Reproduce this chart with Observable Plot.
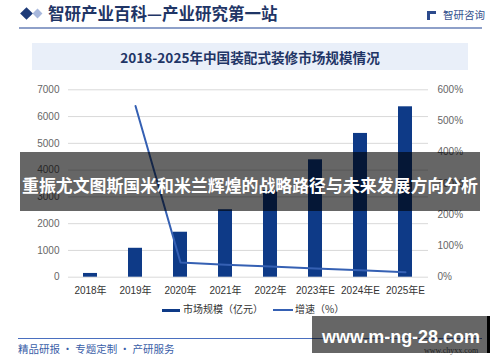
<!DOCTYPE html>
<html>
<head>
<meta charset="utf-8">
<script src="https://cdn.jsdelivr.net/npm/d3@7"></script>
<script src="https://cdn.jsdelivr.net/npm/@observablehq/plot@0.6"></script>
<style>
  body { margin: 0; background: #fff; }
  #wrap { position: relative; width: 500px; height: 362px; overflow: hidden; background: #fff;
          font-family: "Liberation Sans", "Noto Sans CJK SC", sans-serif; }
  .abs { position: absolute; white-space: nowrap; }
  #plot { position: absolute; left: 0; top: 80px; }
</style>
</head>
<body>
<div id="wrap">
  <!-- header -->
  <div class="abs" style="left:22px;top:9px;width:9px;height:9px;background:#1d3a78;transform:rotate(45deg);"></div>
  <div class="abs" style="left:34px;top:10px;width:7px;height:7px;background:#a8b8dc;transform:rotate(45deg);"></div>
  <div class="abs" style="left:48px;top:3px;font-family:'Noto Sans CJK SC';font-weight:700;font-size:16.5px;color:#1f3566;line-height:20px;">智研产业百科—产业研究第一站</div>
  <div class="abs" style="left:427px;top:11px;width:9px;height:9px;border-left:3px solid #2c4a8c;border-top:3px solid #2c4a8c;box-sizing:border-box;"></div>
  <div class="abs" style="left:443px;top:8px;font-family:'Noto Sans CJK SC';font-size:10.5px;color:#34508e;line-height:14px;">智研咨询</div>
  <div class="abs" style="left:19px;top:27px;width:463px;height:1.5px;background:#8ea0c9;"></div>
  <div class="abs" style="left:32px;top:43px;width:436px;height:27px;background:#e9eff9;"></div>
  <div class="abs" style="left:32px;top:43px;width:436px;height:27px;line-height:28px;text-align:center;font-family:'Noto Sans CJK SC';font-weight:700;font-size:13.6px;color:#1f3566;">2018-2025年中国装配式装修市场规模情况</div>

  <div id="plot"></div>

  <!-- legend -->
  <div class="abs" style="left:162px;top:308.5px;width:18px;height:3px;background:#0e3a87;"></div>
  <div class="abs" style="left:183px;top:302px;font-size:10px;line-height:14px;color:#333;font-family:'Noto Sans CJK SC';">市场规模（亿元）</div>
  <div class="abs" style="left:273px;top:309px;width:20px;height:1.6px;background:#3560b3;"></div>
  <div class="abs" style="left:295px;top:302px;font-size:10px;line-height:14px;color:#333;font-family:'Noto Sans CJK SC';">增速（%）</div>

  <!-- footer -->
  <div class="abs" style="left:18px;top:337.5px;width:464px;height:1.5px;background:#4a6fbf;"></div>
  <div class="abs" style="left:18px;top:342px;font-family:'Noto Sans CJK SC';font-size:10.5px;line-height:14px;color:#3a5ea8;">精品研报 · 专题定制 · 产研服务</div>
  <div class="abs" style="left:424px;top:346px;font-family:'Liberation Serif';font-size:8px;line-height:10px;color:#555;">www.chyxx.com</div>

  <!-- overlays -->
  <div class="abs" style="left:20px;top:152px;width:460px;height:59px;background:rgba(0,0,0,0.6);"></div>
  <svg class="abs" style="left:20px;top:152px;" width="460" height="59">
    <text x="2" y="39.5" textLength="456" lengthAdjust="spacingAndGlyphs" fill="#fff" font-family="Noto Sans CJK SC" font-weight="700" font-size="17">重振尤文图斯国米和米兰辉煌的战略路径与未来发展方向分析</text>
  </svg>
  <div class="abs" style="left:312px;top:316px;width:175px;height:37px;background:rgba(0,0,0,0.6);border-right:3px solid #000;"></div>
  <svg class="abs" style="left:312px;top:316px;" width="178" height="37">
    <text x="10" y="27" textLength="158" lengthAdjust="spacingAndGlyphs" fill="#fff" font-family="Liberation Sans" font-weight="700" font-size="19">www.m-ng-28.com</text>
  </svg>
</div>
<script>
const years = ["2018年","2019年","2020年","2021年","2022年","2023年E","2024年E","2025年E"];
const marketSize = [140, 1080, 1680, 2520, 3240, 4385, 5370, 6365];
const growthPct = [null, 548, 47, 40, 34, 28, 22, 16];
const leftTicks = [0, 1000, 2000, 3000, 4000, 5000, 6000, 7000];
const rightTicks = [0, 100, 200, 300, 400, 500, 600];

const yMax = 7000, pMax = 600;
const toY = p => p * yMax / pMax;

const barData = years.map((y, i) => ({year: y, value: marketSize[i]}));
const lineData = years.map((y, i) => ({year: y, g: growthPct[i] == null ? NaN : toY(growthPct[i])}));

const chart = Plot.plot({
  width: 500,
  height: 220,
  marginLeft: 68,
  marginRight: 72,
  marginTop: 9.3,
  marginBottom: 23.3,
  style: {fontFamily: "'Liberation Sans', 'Noto Sans CJK SC', sans-serif", fontSize: "10px", background: "transparent"},
  x: {domain: years, paddingInner: 0.68, paddingOuter: 0.34, label: null},
  y: {domain: [0, yMax], label: null},
  marks: [
    Plot.gridY(leftTicks, {stroke: "#d9d9d9", strokeOpacity: 1, strokeWidth: 1}),
    Plot.barY(barData, {x: "year", y: "value", fill: "#0e3a87"}),
    Plot.line(lineData, {x: "year", y: "g", stroke: "#3560b3", strokeWidth: 2}),
    Plot.axisX({tickSize: 0, tickPadding: 10, fill: "#333", fontSize: 10}),
    Plot.axisY({anchor: "left", ticks: leftTicks, tickSize: 0, tickPadding: 9, fill: "#666", fontSize: 10, tickFormat: d => String(d)}),
    Plot.axisY({anchor: "right", ticks: rightTicks.map(toY), tickSize: 0, tickPadding: 9, fill: "#666", fontSize: 10,
      tickFormat: v => Math.round(v * pMax / yMax) + "%"})
  ]
});
document.getElementById("plot").appendChild(chart);
</script>
</body>
</html>
